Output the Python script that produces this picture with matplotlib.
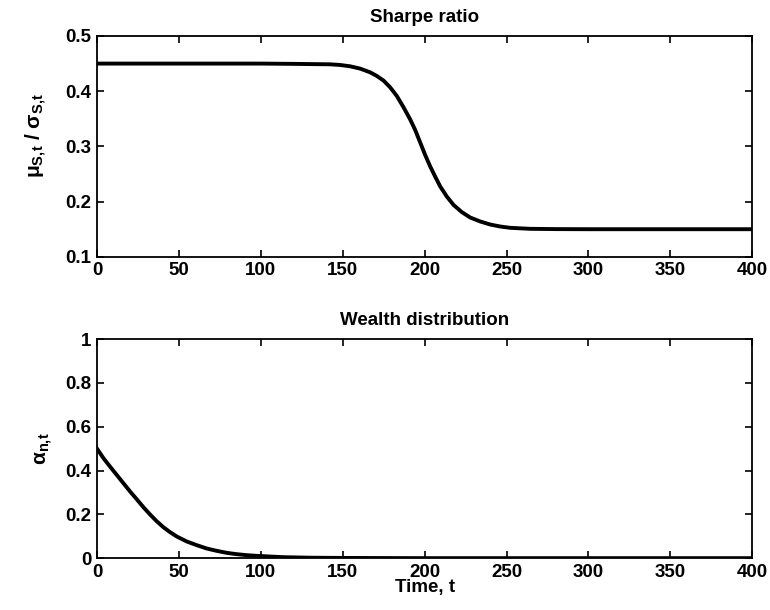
import matplotlib
matplotlib.use("Agg")
import matplotlib.pyplot as plt
from matplotlib.ticker import FormatStrFormatter

plt.rcParams['font.family'] = ['Liberation Sans', 'DejaVu Sans']
plt.rcParams['mathtext.fontset'] = 'custom'
plt.rcParams['mathtext.rm'] = 'Liberation Sans'
plt.rcParams['mathtext.it'] = 'Liberation Sans:italic'
plt.rcParams['mathtext.bf'] = 'Liberation Sans:bold'

# Sharpe ratio
t_sharpe = [0, 50, 100, 120, 142.3, 148.4, 154.5, 160.6, 166.7, 170.8, 174.9,
            178.9, 183.0, 187.1, 191.1, 194.2, 197.3, 200.3, 203.4, 206.4,
            209.5, 213.5, 217.6, 222.7, 227.8, 233.9, 240.0, 246.1, 252.2,
            264.4, 280, 300, 350, 400]
sharpe = [0.450, 0.450, 0.450, 0.4495, 0.4487, 0.4475, 0.4451, 0.4409, 0.4342,
          0.4276, 0.4192, 0.4071, 0.3914, 0.3709, 0.3492, 0.3299, 0.3069,
          0.2846, 0.2636, 0.2454, 0.2274, 0.2093, 0.1941, 0.1809, 0.1712,
          0.1640, 0.1585, 0.1549, 0.1525, 0.1507, 0.1502, 0.150, 0.150, 0.150]

# Distribuição de riqueza
t_wealth = [0, 3.9, 7.9, 12.0, 16.1, 20.2, 24.2, 28.3, 32.4, 36.4, 40.5, 44.6,
            48.7, 54.8, 60.9, 67.0, 73.1, 79.2, 85.3, 91.4, 97.5, 105.6, 113.8,
            130, 150, 200, 300, 400]
wealth = [0.500, 0.4566, 0.4184, 0.3804, 0.3423, 0.3042, 0.2694, 0.2327,
          0.1992, 0.1688, 0.1414, 0.1186, 0.0988, 0.0760, 0.0592, 0.0440,
          0.0333, 0.0242, 0.0181, 0.0136, 0.0105, 0.0074, 0.0044, 0.002,
          0.001, 0.0, 0.0, 0.0]

xticks = [0, 50, 100, 150, 200, 250, 300, 350, 400]
yticks_top = [0.1, 0.2, 0.3, 0.4, 0.5]
yticks_bot = [0, 0.2, 0.4, 0.6, 0.8, 1]

fig = plt.figure(figsize=(7.7, 6.1), dpi=100)
ax1 = fig.add_axes([0.126, 0.579, 0.851, 0.362])
ax2 = fig.add_axes([0.126, 0.085, 0.851, 0.359])


def estilo(ax, yticks):
    ax.set_xlim(0, 400)
    ax.set_xticks(xticks)
    ax.set_yticks(yticks)
    ax.yaxis.set_major_formatter(FormatStrFormatter('%g'))
    ax.tick_params(direction='in', length=5, width=1.2, top=True, right=True,
                   labelsize=13.5, pad=4)
    for lab in ax.get_xticklabels() + ax.get_yticklabels():
        lab.set_fontweight('bold')
    for s in ax.spines.values():
        s.set_linewidth(1.3)


ax1.plot(t_sharpe, sharpe, color='black', linewidth=2.8,
         solid_joinstyle='round')
ax1.set_ylim(0.1, 0.5)
estilo(ax1, yticks_top)
ax1.set_title('Sharpe ratio', fontsize=13.5, fontweight='bold', pad=10)
ax1.set_ylabel(r'$\mathbf{\mu_{S,\!t}\ /\ \sigma_{S,\!t}}$', fontsize=15)
ax1.yaxis.set_label_coords(-0.074, 0.55)

ax2.plot(t_wealth, wealth, color='black', linewidth=2.8,
         solid_joinstyle='round')
ax2.set_ylim(0, 1)
estilo(ax2, yticks_bot)
ax2.set_title('Wealth distribution', fontsize=13.5, fontweight='bold', pad=10)
ax2.set_ylabel(r'$\mathbf{\alpha_{n,\!t}}$', fontsize=15)
ax2.yaxis.set_label_coords(-0.064, 0.5)
ax2.set_xlabel('Time, t', fontsize=13.5, fontweight='bold', labelpad=-1)

fig.savefig('out.png', dpi=100)
